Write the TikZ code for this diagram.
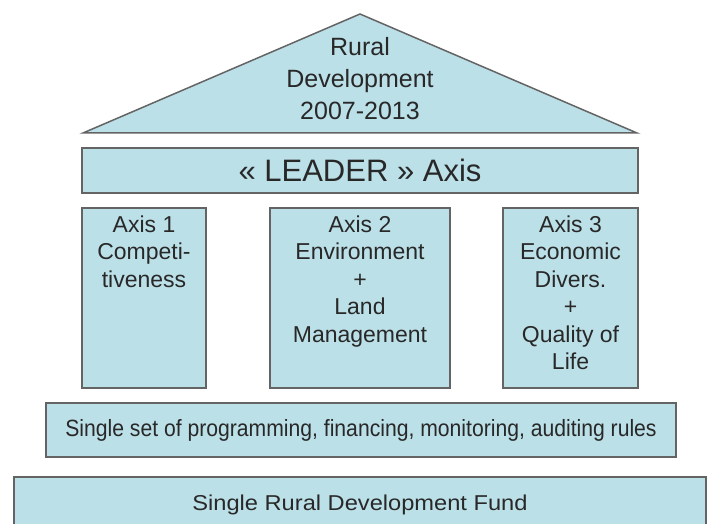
\documentclass[tikz,border=0pt]{standalone}
\usepackage{fontspec}
\setmainfont{Liberation Sans}
\newfontfamily\widefont{Liberation Sans}[FakeStretch=1.1]
\newfontfamily\narrowfont{Liberation Sans}[FakeStretch=0.9]
\definecolor{slabfill}{RGB}{188,224,232}
\definecolor{slabline}{RGB}{100,100,100}
\definecolor{inkgray}{RGB}{40,40,40}

\begin{document}
\begin{tikzpicture}[x=1pt,y=-1pt,
    slab/.style={draw=slabline, fill=slabfill, line width=1.8pt,
      inner sep=0pt, outer sep=0pt, anchor=north west, text=inkgray},
    caption/.style={align=center, inner sep=0pt, text=inkgray,
      font=\fontsize{23}{27.5}\selectfont}]
  \useasboundingbox (0,0) rectangle (709,524);
  % roof
  \coordinate (eaveleft) at (83,133);
  \coordinate (apex) at (360,14);
  \coordinate (eaveright) at (637,133);
  \draw[draw=slabline, fill=slabfill, line width=1.5pt]
    (eaveleft) -- (apex) -- (eaveright) -- cycle;
  \node[caption, anchor=north, font=\fontsize{25}{32}\selectfont]
    (title) at (360,37) {Rural\\Development\\2007-2013};
  % leader beam
  \node[slab, minimum width=556pt, minimum height=45pt,
    font=\fontsize{31}{36}\selectfont] (leader) at (82,148)
    {«~LEADER~» Axis};
  % pillars
  \node[slab, minimum width=124pt, minimum height=180pt] (axisone) at (82,208) {};
  \node[slab, minimum width=180pt, minimum height=180pt] (axistwo) at (270,208) {};
  \node[slab, minimum width=135pt, minimum height=180pt] (axisthree) at (503,208) {};
  \node[caption, anchor=north] (axisonetext) at ([yshift=-7.5pt]axisone.north)
    {Axis 1\\Competi-\\tiveness};
  \node[caption, anchor=north] (axistwotext) at ([yshift=-7.5pt]axistwo.north)
    {Axis 2\\Environment\\+\\Land\\Management};
  \node[caption, anchor=north] (axisthreetext) at ([yshift=-7.5pt]axisthree.north)
    {Axis 3\\Economic\\Divers.\\+\\Quality of\\Life};
  % foundations
  \node[slab, minimum width=630pt, minimum height=54pt,
    font=\narrowfont\fontsize{23.5}{28}\selectfont] (rules) at (46,403)
    {Single set of programming, financing, monitoring, auditing rules};
  \node[slab, minimum width=692pt, minimum height=56pt,
    font=\widefont\fontsize{21.5}{26}\selectfont] (fund) at (14,477)
    {Single Rural Development Fund};
\end{tikzpicture}
\end{document}
